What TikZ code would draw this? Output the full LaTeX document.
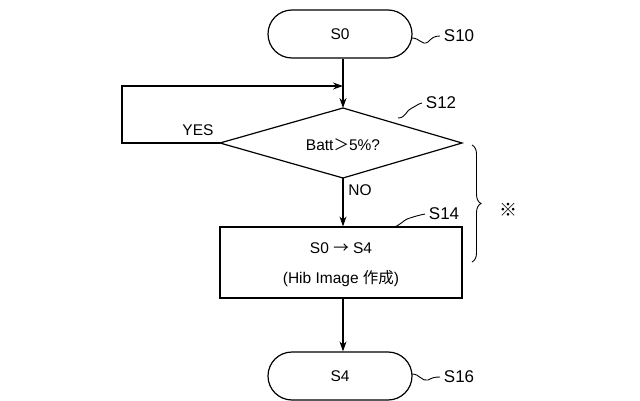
\documentclass[tikz,border=0pt]{standalone}
\usepackage{fontspec}
\setmainfont{Liberation Sans}
\newfontfamily\cjk{Noto Sans CJK JP}
\usetikzlibrary{shapes.geometric,decorations.pathreplacing,arrows.meta}
\begin{document}
\begin{tikzpicture}[x=1pt,y=-1pt,font=\fontsize{15.5}{18}\selectfont,
  line width=1.2pt,
  term/.style={draw,rounded corners=24pt,minimum width=144pt,minimum height=48pt},
  arr/.style={-{Stealth[length=10pt,width=7pt]}},
  lab/.style={anchor=west,font=\fontsize{17}{19}\selectfont},
  lead/.style={line width=0.9pt}]
\useasboundingbox (0,0) rectangle (640,401);
\node[term] (s0) at (340,34) {S0};
\node[term] (s4) at (340,376) {S4};
\coordinate (dt) at (343,108);
\coordinate (dl) at (220,143);
\coordinate (dr) at (462,143);
\coordinate (db) at (343,178);
\draw (dt) -- (dr) -- (db) -- (dl) -- cycle;
\node (dtext) at (343,145) {Batt{\cjk ＞}5\%?};
\node[draw,minimum width=242pt,minimum height=71pt] (box) at (341,262.5) {};
\node (t1) at (341,248) {S0 {\cjk →} S4};
\node (t2) at (341,279) {(Hib Image {\cjk 作成})};
\coordinate (j) at (343,86);
\draw[arr] (s0.south-|j) -- (dt);
\draw[arr] (dl) -- (122,143) -- (122,86) -- (j);
\draw[arr] (db) -- (box.north-|db);
\draw[arr] (box.south-|db) -- (s4.north-|db);
\node (yes) at (198,130) {YES};
\node (no) at (360,190) {NO};
\node[lab] (l10) at (440,36) {S10};
\node[lab] (l12) at (422,103) {S12};
\node[lab] (l14) at (425,214) {S14};
\node[lab] (l16) at (440,377) {S16};
\draw[lead] (412,38) .. controls (420,38) and (422,46) .. (428,42) .. controls (432,38) and (434,36) .. (l10.west);
\draw[lead] (398,118) .. controls (406,118) and (406,110) .. (412,108) .. controls (416,106) and (418,104) .. (l12.west);
\draw[lead] (392,227) .. controls (400,227) and (402,220) .. (410,218) .. controls (416,216) and (420,215) .. (l14.west);
\draw[lead] (412,374) .. controls (420,374) and (422,382) .. (428,380) .. controls (432,378) and (434,377) .. (l16.west);
\draw[lead,decorate,decoration={brace,amplitude=9pt}] (472,145) -- (472,262);
\node[font=\fontsize{18}{20}\selectfont\cjk] (mark) at (508,210) {※};
\end{tikzpicture}
\end{document}
